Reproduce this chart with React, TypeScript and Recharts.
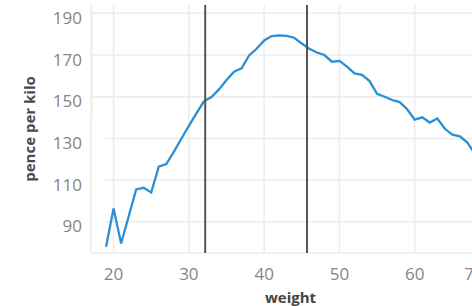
import { CartesianGrid, Label, Line, LineChart, ReferenceLine, XAxis, YAxis } from "recharts";

const weights = [
  19, 20, 21, 22, 23, 24, 25, 26, 27, 28, 29, 30, 31, 32, 33, 34, 35, 36, 37, 38, 39, 40, 41, 42,
  43, 44, 45, 46, 47, 48, 49, 50, 51, 52, 53, 54, 55, 56, 57, 58, 59, 60, 61, 62, 63, 64, 65, 66,
  67, 68, 69,
];
const pencePerKilo = [
  78, 96.4, 79.6, 92.5, 105.5, 106.3, 104, 116.4, 117.7, 123.5, 129.8, 136, 142, 147.8, 149.8,
  153.5, 158, 162, 163.6, 169.8, 173, 177, 179.1, 179.4, 179.2, 178.3, 175.5, 173, 171.2, 170,
  166.8, 167.2, 164.4, 161.2, 160.5, 157.5, 151.4, 150, 148.4, 147.4, 144, 139, 140.1, 137.6,
  139.5, 134.6, 131.8, 131, 128, 122.5, 117,
];
const xTicks = [20, 30, 40, 50, 60, 70];
const yTicks = [90, 110, 130, 150, 170, 190];
const fullGridY = [190, 170, 150, 75];
const shortGridY = [130, 110, 90];
const markers = [32.17, 45.69];

const data = weights.map((w, i) => ({ weight: w, price: pencePerKilo[i] }));

const FONT = "'Open Sans', sans-serif";
const GRID = "#ececec";

const XTick = (props: any) => {
  const { x, y, payload } = props;
  // last label sits at the cropped right edge
  const dx = payload.value === 70 ? -8 : 0;
  return (
    <text x={x + dx} y={y + 27} textAnchor="middle" fill="#858585" fontSize={17} fontFamily={FONT}>
      {payload.value}
    </text>
  );
};

const YTick = (props: any) => {
  const { x, y, payload } = props;
  return (
    <text x={x} y={y + 10.5} textAnchor="end" fill="#858585" fontSize={17} fontFamily={FONT}>
      {payload.value}
    </text>
  );
};

export default function App() {
  return (
    <div
      style={{
        position: "fixed",
        left: 0,
        top: 0,
        width: 472,
        height: 306,
        overflow: "hidden",
        background: "#fff",
      }}
    >
      <LineChart
        width={490}
        height={306}
        data={data}
        margin={{ top: 5, right: 0, bottom: 0, left: 0 }}
      >
        <CartesianGrid horizontal={false} stroke={GRID} strokeWidth={1.5} />
        <XAxis
          dataKey="weight"
          type="number"
          domain={[17, 70]}
          ticks={xTicks}
          allowDataOverflow
          axisLine={false}
          tickLine={false}
          tickSize={0}
          tickMargin={0}
          height={53}
          tick={<XTick />}
        >
          <Label
            value="weight"
            position="insideBottom"
            offset={3}
            fill="#444"
            fontSize={15}
            fontWeight="bold"
            fontFamily={FONT}
          />
        </XAxis>
        <YAxis
          type="number"
          domain={[75, 194]}
          ticks={yTicks}
          allowDataOverflow
          axisLine={false}
          tickLine={false}
          tickSize={0}
          tickMargin={9}
          width={91}
          tick={<YTick />}
        >
          <Label
            value="pence per kilo"
            position="insideLeft"
            angle={-90}
            offset={30}
            fill="#4a4a4a"
            fontSize={15}
            fontWeight="bold"
            fontFamily={FONT}
            style={{ textAnchor: "middle" }}
          />
        </YAxis>
        {fullGridY.map((v) => (
          <ReferenceLine key={`g${v}`} y={v} stroke={GRID} strokeWidth={1.5} />
        ))}
        {shortGridY.map((v) => (
          <ReferenceLine
            key={`s${v}`}
            segment={[
              { x: 18.9, y: v },
              { x: 70, y: v },
            ]}
            stroke={GRID}
            strokeWidth={1.5}
          />
        ))}
        <ReferenceLine
          segment={[
            { x: 17.1, y: 139.7 },
            { x: 17.1, y: 194 },
          ]}
          stroke={GRID}
          strokeWidth={1.5}
        />
        <Line
          dataKey="price"
          type="linear"
          stroke="#2a8fd4"
          strokeWidth={2.3}
          dot={false}
          isAnimationActive={false}
        />
        {markers.map((m) => (
          <ReferenceLine key={`m${m}`} x={m} stroke="#555" strokeWidth={2} />
        ))}
      </LineChart>
    </div>
  );
}
